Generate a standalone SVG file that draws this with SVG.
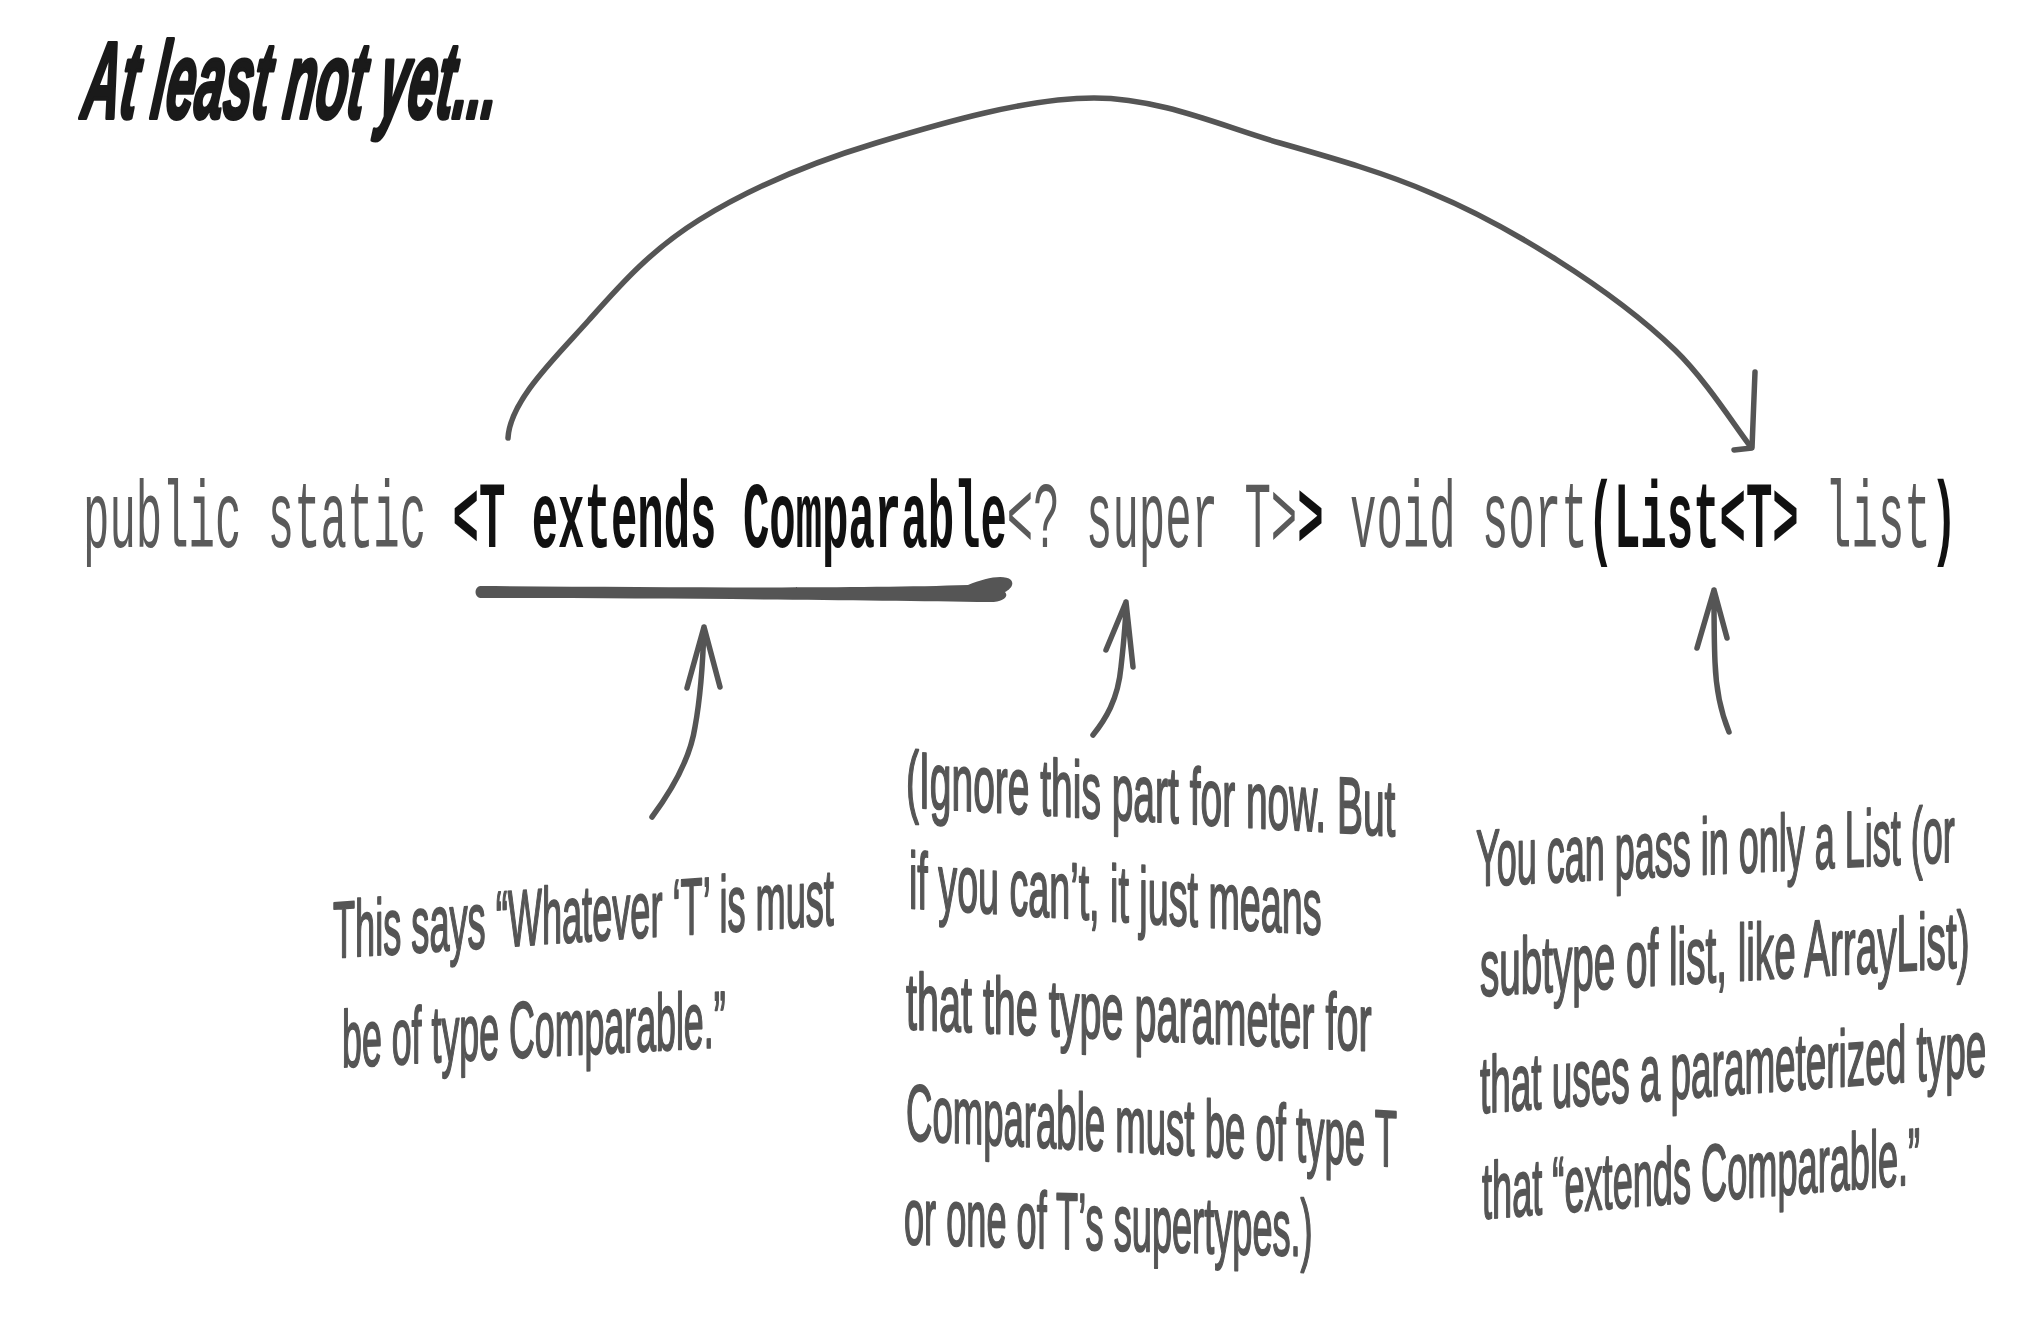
<svg xmlns="http://www.w3.org/2000/svg" width="2031" height="1332" viewBox="0 0 2031 1332">
<style>
.code{font-family:"Liberation Mono","DejaVu Sans Mono",monospace;font-size:94px;fill:#5a5a5a}
.k{fill:#111;font-weight:bold}
.hand{font-family:"Liberation Sans","Open Sans",sans-serif;font-size:80px;fill:#555;stroke:#555;stroke-width:2;stroke-linejoin:round}
.ln{fill:none;stroke:#555;stroke-width:5.5;stroke-linecap:round;stroke-linejoin:round}
</style>
<rect width="2031" height="1332" fill="#fff"/>
<g id="title">
<text transform="translate(80,118) skewX(-7) scale(0.475,1)" font-family="Liberation Sans, Arial, sans-serif" font-size="109" font-weight="bold" font-style="italic" fill="#1a1a1a" stroke="#1a1a1a" stroke-width="4" stroke-linejoin="round">At least not yet...</text>
</g>
<g id="code">
<text class="code" transform="translate(83,547) scale(0.468,1)">public static <tspan class="k">&lt;T extends Comparable</tspan>&lt;? super T&gt;<tspan class="k">&gt;</tspan> void sort<tspan class="k">(List&lt;T&gt;</tspan> list<tspan class="k">)</tspan></text>
<path d="M480,586 C650,587 850,589 968,585 C985,578 1004,574 1011,580 C1015,585 1009,590 1005,592 C1009,596 1004,602 990,602 C850,600 650,598 480,598 C474,597 474,587 480,586 Z" fill="#555"/>
</g>
<g id="note1">
<text class="hand" transform="translate(333,958) skewY(-3.8) scale(0.452,1)">This says “Whatever ‘T’ is must</text>
<text class="hand" transform="translate(342,1067) skewY(-3) scale(0.447,1)">be of type Comparable.”</text>
</g>
<g id="note2">
<text class="hand" transform="translate(906,807) skewY(3.4) scale(0.487,1)">(Ignore this part for now. But</text>
<text class="hand" transform="translate(909,908) skewY(3.7) scale(0.471,1)">if you can’t, it just means</text>
<text class="hand" transform="translate(906,1029) skewY(2.7) scale(0.494,1)">that the type parameter for</text>
<text class="hand" transform="translate(906,1140) skewY(3.1) scale(0.457,1)">Comparable must be of type T</text>
<text class="hand" transform="translate(904,1244) skewY(1.7) scale(0.452,1)">or one of T’s supertypes.)</text>
</g>
<g id="note3">
<text class="hand" transform="translate(1476,886) skewY(-2.9) scale(0.450,1)">You can pass in only a List (or</text>
<text class="hand" transform="translate(1480,996) skewY(-3.4) scale(0.483,1)">subtype of list, like ArrayList)</text>
<text class="hand" transform="translate(1480,1113) skewY(-4.2) scale(0.461,1)">that uses a parameterized type</text>
<text class="hand" transform="translate(1482,1219) skewY(-4.6) scale(0.452,1)">that “extends Comparable.”</text>
</g>
<g id="connectors">
<path class="ln" d="M508,438 C510,400 557,356 589,320 C621,284 651,250 699,220 C747,190 810,163 876,143 C942,123 1027,98 1094,98 C1161,98 1224,127 1280,143 C1336,159 1385,173 1431,193 C1477,212 1516,234 1557,260 C1598,286 1643,319 1675,350 C1707,381 1738,431 1751,447"/>
<path class="ln" d="M1755,372 L1752,448 L1734,450"/>
<path class="ln" d="M652,817 C672,790 690,760 695,727 C700,700 703,660 704,627 M687,688 L704,627 L720,687"/>
<path class="ln" d="M1093,735 C1105,720 1118,700 1121,667 C1124,640 1126,620 1126,602 M1106,650 L1126,602 L1133,667"/>
<path class="ln" d="M1729,732 C1722,715 1716,690 1715,662 C1714,640 1714,615 1714,590 M1697,648 L1714,590 L1727,638"/>
</g>
</svg>
